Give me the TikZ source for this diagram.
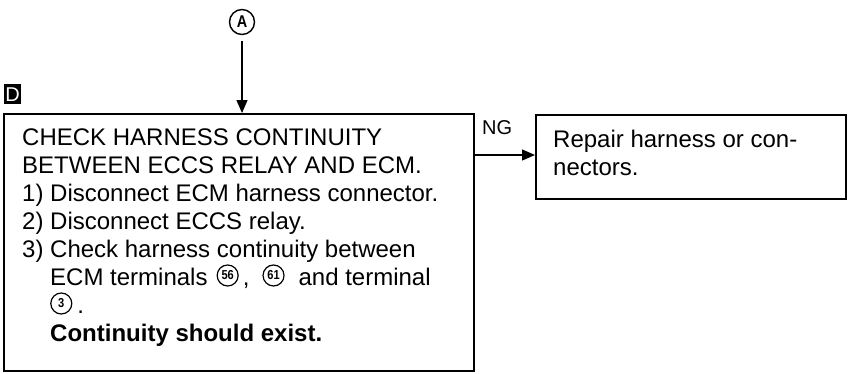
\documentclass[tikz,border=0pt]{standalone}
\usepackage{fontspec}
\setmainfont{Liberation Sans}
\usetikzlibrary{arrows.meta}
\newcommand{\circnum}[1]{\tikz[baseline={([yshift=-6pt]cn.base)}]\node[circle,draw,line width=1.2pt,inner sep=0pt,minimum size=21pt,font=\fontsize{13}{13}\selectfont\bfseries](cn){\scalebox{0.85}[1]{#1}};}
\begin{document}
\begin{tikzpicture}[x=1pt,y=-1pt,
  boxstyle/.style={draw,line width=1.5pt,rectangle,inner sep=0pt,anchor=north west},
  txtstyle/.style={anchor=north west,align=left,inner sep=0pt,font=\fontsize{24}{28}\selectfont},
  arr/.style={line width=1.3pt,-{Triangle[length=13pt,width=11pt]}}]
\useasboundingbox (0,0) rectangle (853,373);
% tag D
\node[fill=black,text=white,inner sep=0pt,minimum width=17pt,minimum height=20pt,anchor=north west,font=\fontsize{20}{20}\selectfont] (tagD) at (4,84) {D};
% circle A
\node[circle,draw,line width=1.4pt,inner sep=0pt,minimum size=25pt,font=\fontsize{17}{17}\selectfont\bfseries] (cA) at (242,22) {\scalebox{0.85}[1]{A}};
% main box
\node[boxstyle,minimum width=470pt,minimum height=257pt] (main) at (3,113) {};
\node[txtstyle] (maintxt) at (22,129) {CHECK HARNESS CONTINUITY\\
BETWEEN ECCS RELAY AND ECM.\\
1) Disconnect ECM harness connector.\\
2) Disconnect ECCS relay.\\
3) Check harness continuity between\\
\hspace*{28pt}ECM terminals\hspace{9pt}\circnum{56}\hspace{4pt},\hspace{13pt}\circnum{61}\hspace{14pt}and terminal\\
\hspace*{28pt}\circnum{3}\hspace{5pt}.\\
\hspace*{28pt}\textbf{Continuity should exist.}};
% repair box
\node[boxstyle,minimum width=310pt,minimum height=84pt] (rep) at (535,114) {};
\node[txtstyle] (reptxt) at (553,130) {Repair harness or con-\\nectors.};
% connectors
\draw[arr,shorten <=6pt] (cA) -- (main.north -| cA);
\coordinate (ay) at (0,155);
\draw[arr] (main.east |- ay) -- (rep.west |- ay);
\node[anchor=south west,inner sep=0pt,font=\fontsize{20}{20}\selectfont] (ng) at (482,135) {NG};
\end{tikzpicture}
\end{document}
